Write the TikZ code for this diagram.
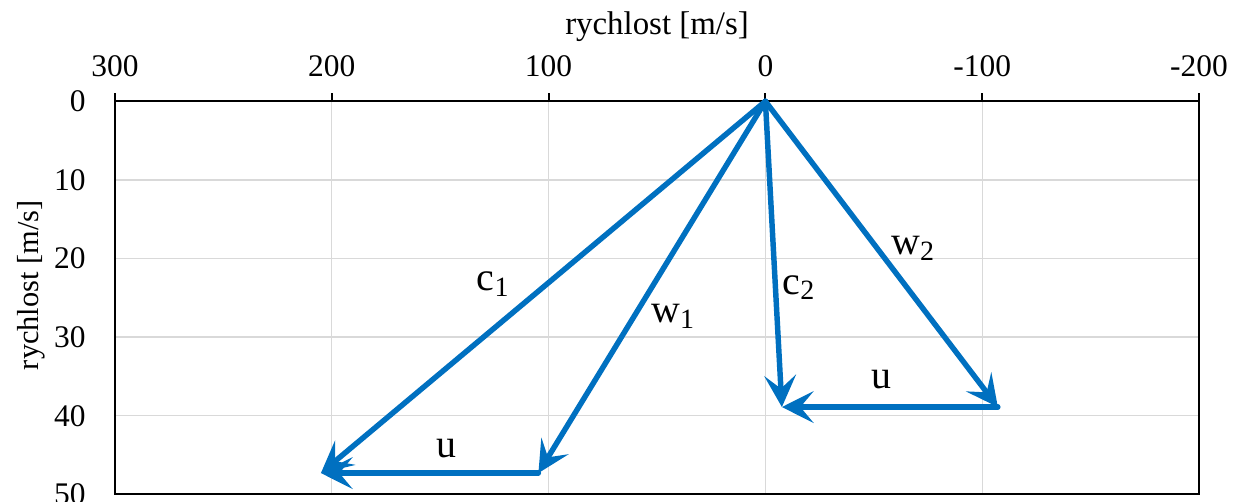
\documentclass[tikz,border=0pt]{standalone}
\usepackage{fontspec}
\setmainfont{Liberation Serif}
\usetikzlibrary{arrows.meta}
\definecolor{vecBlue}{HTML}{0070C0}
\definecolor{gridGray}{HTML}{D9D9D9}
\tikzset{
    every picture/.style={font=\fontsize{17.9}{20}\selectfont},
    vec/.style={-{Stealth[length=18pt, width=18pt, inset=7.5pt]}, line width=3.1pt, draw=vecBlue, line cap=round},
    gridline/.style={draw=gridGray, line width=0.7pt},
    frame/.style={draw=black, line width=1.2pt},
    ticklab/.style={inner sep=0pt},
    veclab/.style={inner sep=0pt, font=\fontsize{22.7}{26}\selectfont}
}

\begin{document}
\begin{tikzpicture}
\useasboundingbox (0,0) rectangle (24.78,-10.02);
\begin{scope}[shift={(15.308,-2.026)}, x=-0.04336cm, y=-0.1572cm]
% grid
\foreach \v in {200,100,0,-100} \draw[gridline] (\v,0) -- (\v,50);
\foreach \w in {10,20,30,40} \draw[gridline] (300,\w) -- (-200,\w);
% frame, ticks and tick labels
\draw[frame] (300,0) rectangle (-200,50);
\foreach \v in {300,200,...,-200} {
    \draw[frame] (\v,0) -- ++(0,-1.1);
    \node[ticklab] (xl\v) at (\v,-4.5) {\v};
}
\foreach \w in {0,10,...,50}
    \node[ticklab, anchor=east] (yl\w) at (313.4,\w) {\w};
\node[ticklab, font=\fontsize{18.7}{20}\selectfont] (xtitle) at (50,-9.5) {rychlost [m/s]};
\node[ticklab, rotate=90, font=\fontsize{17.3}{20}\selectfont] (ytitle) at (338.7,23.4) {rychlost [m/s]};
% velocity triangles
\coordinate (O) at (0,0);
\coordinate (C1) at (205,47.3);
\coordinate (W1) at (104.7,47.3);
\coordinate (C2) at (-7.6,38.9);
\coordinate (W2) at (-107.2,38.9);
\draw[vec] (O) -- (C1);
\draw[vec] (O) -- (W1);
\draw[vec] (W1) -- (C1);
\draw[vec] (O) -- (C2);
\draw[vec] (O) -- (W2);
\draw[vec] (W2) -- (C2);
\node[veclab] (c1) at (125.6,23.3) {c\textsubscript{1}};
\node[veclab] (w1) at (42.6,27.4) {w\textsubscript{1}};
\node[veclab] (c2) at (-15.5,23.7) {c\textsubscript{2}};
\node[veclab] (w2) at (-68.1,18.7) {w\textsubscript{2}};
\node[veclab] (u1) at (146.9,44.2) {u};
\node[veclab] (u2) at (-53.3,35.4) {u};
\end{scope}
\end{tikzpicture}
\end{document}
